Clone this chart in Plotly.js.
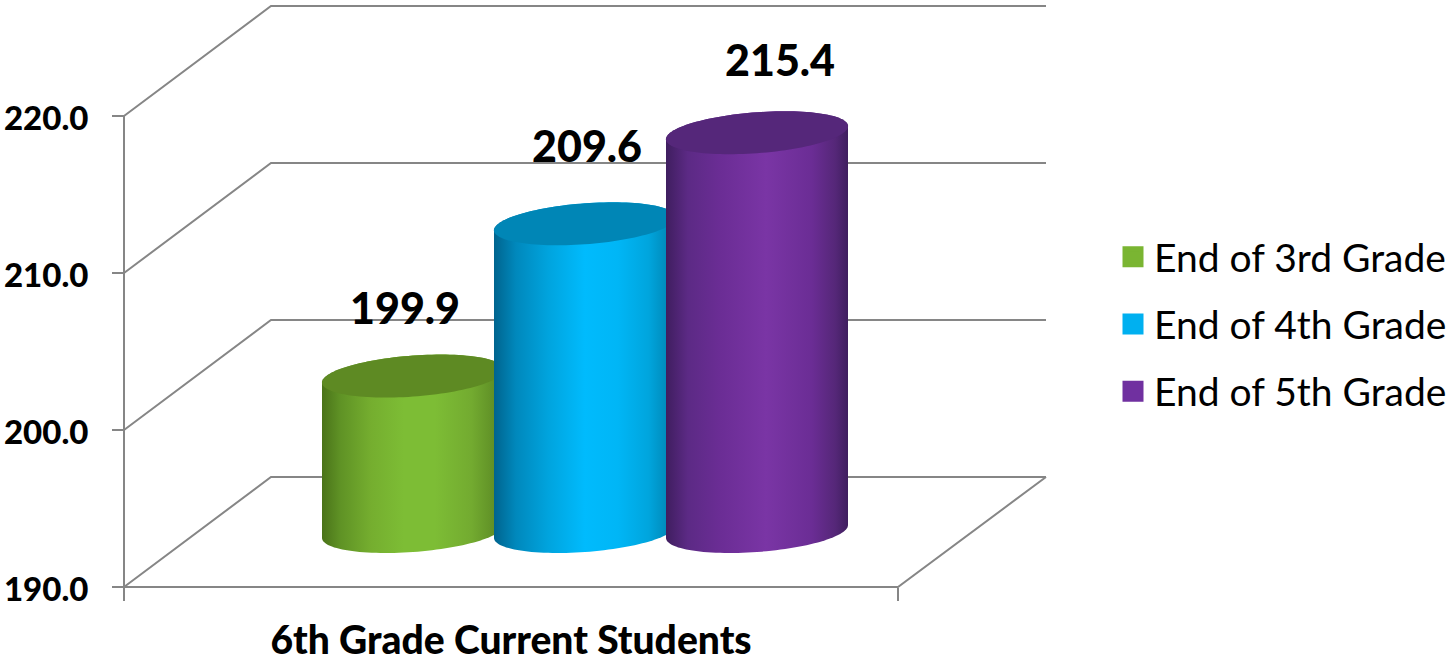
<!DOCTYPE html>
<html>
<head>
<meta charset="utf-8">
<script src="https://cdn.plot.ly/plotly-3.0.1.min.js"></script>
<style>html,body{margin:0;padding:0;background:#fff}</style>
</head>
<body>
<div id="chart" style="width:1449px;height:661px"></div>
<script>
// chart values
const category = '6th Grade Current Students';
const seriesNames = ['End of 3rd Grade', 'End of 4th Grade', 'End of 5th Grade'];
const seriesValues = [199.9, 209.6, 215.4];
const yTicks = [190, 200, 210, 220];
const yTickLabels = ['190.0', '200.0', '210.0', '220.0'];

// colours
const swatchColors = ['#7AB532', '#00B0F0', '#7030A0'];
const capColors = ['#5E8A23', '#0086B6', '#55277A'];
const bodyScales = [
  [[0,'#4A7319'],[0.1,'#5F9225'],[0.27,'#75AE2F'],[0.45,'#7DBD35'],[0.62,'#7DBD35'],[0.82,'#73AB30'],[0.95,'#5F8F26'],[1,'#557F20']],
  [[0,'#00648E'],[0.12,'#0088BC'],[0.3,'#00A4DE'],[0.5,'#00BBFD'],[0.68,'#00B6F6'],[0.85,'#00A5DD'],[1,'#007EAA']],
  [[0,'#3F1E5F'],[0.12,'#5C2A85'],[0.3,'#6B2D95'],[0.55,'#7A35A5'],[0.8,'#6B2D95'],[0.93,'#552778'],[1,'#3F1E5F']]
];

// projection of the pseudo-3D box, in axis units
const W = 1449, H = 661, pxPerUnit = 15.7, axisMin = 190, axisMax = 220;
const frontL = 124, frontR = 898, backL = 271, backR = 1046;
const depth = 110 / pxPerUnit, midDepth = 55.5 / pxPerUnit;
const centers = [413, 585, 757], halfW = 91;
const tiltA = 6.5 / pxPerUnit, tiltB = 20.5 / pxPerUnit;
const labelDx = [-8, 2, 23], labelDy = [63, 73, 67].map(d => d / pxPerUnit);
const yRange = [axisMin - (H - 587) / pxPerUnit, axisMin + 587 / pxPerUnit];

const frameX = [], frameY = [];
yTicks.forEach(t => {
  frameX.push(frontL, backL, backR, null);
  frameY.push(t, t + depth, t + depth, null);
});
frameX.push(frontL, frontL, null, frontL, frontR, backR);
frameY.push(axisMin, axisMax, null, axisMin, axisMin, axisMin + depth);

function arc(cx, cy, from, to, n) {
  const xs = [], ys = [];
  for (let i = 0; i <= n; i++) {
    const t = from + (to - from) * i / n;
    xs.push(cx + halfW * Math.cos(t));
    ys.push(cy + tiltA * Math.cos(t) + tiltB * Math.sin(t));
  }
  return [xs, ys];
}

const traces = [{
  type: 'scatter', mode: 'lines', x: frameX, y: frameY, showlegend: false, hoverinfo: 'skip',
  line: {color: '#868686', width: 2}
}];

seriesNames.forEach((name, i) => {
  const base = axisMin + midDepth, top = seriesValues[i] + midDepth;
  traces.push({
    type: 'scatter', mode: 'markers', name: name, legendgroup: name,
    x: [centers[i]], y: [(base + top) / 2],
    marker: {symbol: 'square', size: 16, color: swatchColors[i], line: {color: swatchColors[i], width: 5}}
  });
  const a = arc(centers[i], top, Math.PI, 0, 60);
  const b = arc(centers[i], base, 0, -Math.PI, 60);
  traces.push({
    type: 'scatter', mode: 'none', showlegend: false, hoverinfo: 'skip', fill: 'toself',
    x: a[0].concat(b[0]), y: a[1].concat(b[1]),
    fillcolor: swatchColors[i],
    fillgradient: {type: 'horizontal', colorscale: bodyScales[i]}
  });
  const c = arc(centers[i], top, 0, 2 * Math.PI, 120);
  traces.push({
    type: 'scatter', mode: 'none', showlegend: false, hoverinfo: 'skip', fill: 'toself',
    x: c[0], y: c[1], fillcolor: capColors[i]
  });
});

traces.push({
  type: 'scatter', mode: 'text', showlegend: false, hoverinfo: 'skip',
  x: centers.map((c, i) => c + labelDx[i]),
  y: seriesValues.map((v, i) => v + midDepth + labelDy[i]),
  text: seriesValues.map(v => v.toFixed(1)),
  textposition: 'middle center',
  textfont: {family: 'Lato', size: 43, color: '#000', weight: 900}
});

const layout = {
  width: W, height: H, margin: {l: 0, r: 0, t: 0, b: 0, pad: 0, autoexpand: false},
  paper_bgcolor: '#fff', plot_bgcolor: '#fff', hovermode: false,
  font: {family: 'Lato', color: '#000'},
  xaxis: {
    range: [0, W], domain: [0, 1], anchor: 'free', position: (H - 587) / H,
    showgrid: false, zeroline: false, showline: false,
    tickmode: 'array', tickvals: [511], ticktext: [category],
    ticks: 'outside', ticklen: 0, tickcolor: 'rgba(0,0,0,0)', ticklabelstandoff: 19,
    tickfont: {family: 'Lato', size: 39, color: '#000', weight: 900},
    minor: {tickmode: 'array', tickvals: [frontL, frontR], ticks: 'outside', ticklen: 13, tickcolor: '#868686', tickwidth: 2, showgrid: false}
  },
  yaxis: {
    range: yRange, domain: [0, 1], anchor: 'free', position: frontL / W,
    showgrid: false, zeroline: false, showline: false,
    tickmode: 'array', tickvals: yTicks, ticktext: yTickLabels,
    ticks: 'outside', ticklen: 12, tickcolor: '#868686', tickwidth: 2, ticklabelstandoff: 17, ticklabelshift: 2,
    tickfont: {family: 'Lato', size: 33, color: '#000', weight: 900}
  },
  legend: {
    x: 1112 / W, xanchor: 'left', y: 1 - 225 / H, yanchor: 'top',
    font: {family: 'Lato', size: 39, color: '#000'},
    itemwidth: 32, tracegroupgap: 13.5, bgcolor: 'rgba(0,0,0,0)', itemclick: false, itemdoubleclick: false
  },
  showlegend: true
};

Plotly.newPlot('chart', traces, layout, {displayModeBar: false, staticPlot: true});
</script>
</body>
</html>
